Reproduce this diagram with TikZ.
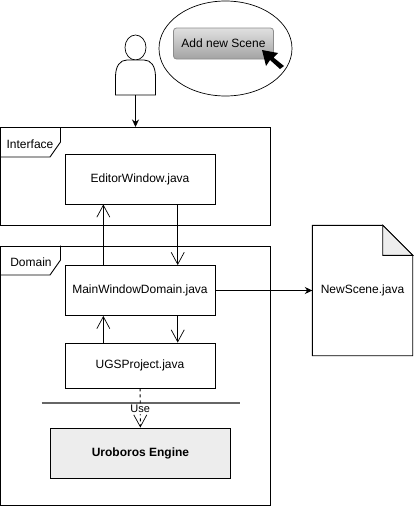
\documentclass[tikz,border=0pt]{standalone}
\usepackage{fontspec}
\setmainfont{Liberation Sans}
\usetikzlibrary{
    arrows.meta,
    positioning,
    calc,
    shapes.geometric
}

\tikzset{
  classbox/.style={
    draw,
    line width=0.9pt,
    fill=white,
    minimum width=150pt,
    inner sep=0pt,
    font=\fontsize{12}{14}\selectfont
  },
  framebox/.style={
    draw,
    line width=0.9pt,
    minimum width=270pt,
    inner sep=0pt,
    anchor=north west
  },
  framelabel/.style={
    inner sep=0pt,
    font=\fontsize{12}{14}\selectfont
  },
  openarrow/.style={
    line width=0.9pt,
    -{Straight Barb[length=12pt,width=13pt,line width=0.7pt]}
  },
  solidarrow/.style={
    line width=0.9pt,
    -{Stealth[length=7.5pt,width=7pt]}
  }
}

\begin{document}
\begin{tikzpicture}[x=1pt, y=-1pt]

  \useasboundingbox (0,0) rectangle (413,506);

  % user and button {{{
  \node[
    draw,
    ellipse,
    line width=0.7pt,
    minimum width=21pt,
    minimum height=25pt,
    inner sep=0pt
  ] (head) at (135.5,47.5) {};
  \node[
    draw,
    ellipse,
    line width=0.7pt,
    minimum width=133pt,
    minimum height=95pt,
    inner sep=0pt
  ] (bubble) at (225.5,48.5) {};
  \draw[line width=0.8pt, fill=white]
    (115.5,95) -- (115.5,77)
    .. controls (115.5,66) and (120,60) .. (127,60)
    -- (144,60)
    .. controls (151,60) and (155.5,66) .. (155.5,77)
    -- (155.5,95) -- cycle;
  \coordinate (bodybottom) at (135.5,95);
  \node[
    draw=black!45,
    line width=0.8pt,
    rounded corners=3pt,
    top color=black!12,
    bottom color=black!36,
    minimum width=100pt,
    minimum height=31pt,
    inner sep=0pt,
    font=\fontsize{12}{14}\selectfont
  ] (button) at (223.5,43.5) {Add new Scene};
  \fill[black]
    (262,50) -- (278,53) -- (273.5,57.5) -- (284,66) -- (280,69)
    -- (270,60) -- (266,66) -- cycle;
  % }}}

  % Interface {{{
  \node[
    framebox,
    minimum height=98pt
  ] (interface) at (0,127) {};
  \draw[line width=0.9pt]
    (0,157) -- (50,157) -- (60.5,142) -- (60.5,127);
  \node[framelabel] (interfacelabel) at (30,144) {Interface};
  \node[
    classbox,
    minimum height=50pt
  ] (editor) at (140,179) {EditorWindow.java};
  % }}}

  % Domain {{{
  \node[
    framebox,
    minimum height=259pt
  ] (domain) at (0,245.5) {};
  \draw[line width=0.9pt]
    (0,275) -- (50,275) -- (60.5,260) -- (60.5,245.5);
  \node[framelabel] (domainlabel) at (31,262) {Domain};
  \node[
    classbox,
    minimum height=50pt
  ] (main) at (140,290.5) {MainWindowDomain.java};
  \node[
    classbox,
    minimum height=45pt
  ] (project) at (140,365.5) {UGSProject.java};
  \node[
    classbox,
    fill=black!7,
    minimum width=180pt,
    minimum height=50pt,
    font=\fontsize{12}{14}\selectfont\bfseries
  ] (engine) at (140.5,453) {Uroboros Engine};
  \coordinate (barleft) at (41.5,403);
  \coordinate (barright) at (239.5,403);
  \draw[line width=1.2pt, black!60] (barleft) -- (barright);
  % }}}

  % NewScene.java {{{
  \node[
    inner sep=0pt,
    minimum width=100pt,
    minimum height=130pt
  ] (scene) at (362.5,290.5) {};
  \draw[line width=0.9pt, fill=white]
    (scene.north west) -- ($(scene.north east)+(-30,0)$)
    -- ($(scene.north east)+(0,30)$) -- (scene.south east)
    -- (scene.south west) -- cycle;
  \draw[line width=0.9pt, fill=black!7]
    ($(scene.north east)+(-30,0)$) -- ($(scene.north east)+(-30,30)$)
    -- ($(scene.north east)+(0,30)$) -- cycle;
  \node[font=\fontsize{12}{14}\selectfont, inner sep=0pt] (scenelabel) at (scene.center) {NewScene.java};
  % }}}

  % connectors {{{
  \draw[solidarrow] (bodybottom) -- (interface.north -| bodybottom);
  \draw[openarrow]
    ($(main.north west)!0.257!(main.north east)$) --
    ($(editor.south west)!0.257!(editor.south east)$);
  \draw[openarrow]
    ($(editor.south west)!0.75!(editor.south east)$) --
    ($(main.north west)!0.75!(main.north east)$);
  \draw[openarrow]
    ($(project.north west)!0.257!(project.north east)$) --
    ($(main.south west)!0.257!(main.south east)$);
  \draw[openarrow]
    ($(main.south west)!0.75!(main.south east)$) --
    ($(project.north west)!0.75!(project.north east)$);
  \draw[solidarrow] (main) -- (scene);
  \draw[openarrow, dashed] (project) --
    node[
      fill=white,
      inner sep=0.5pt,
      pos=0.53,
      font=\fontsize{11}{13}\selectfont
    ] (use) {Use} (engine);
  % }}}

\end{tikzpicture}
\end{document}
